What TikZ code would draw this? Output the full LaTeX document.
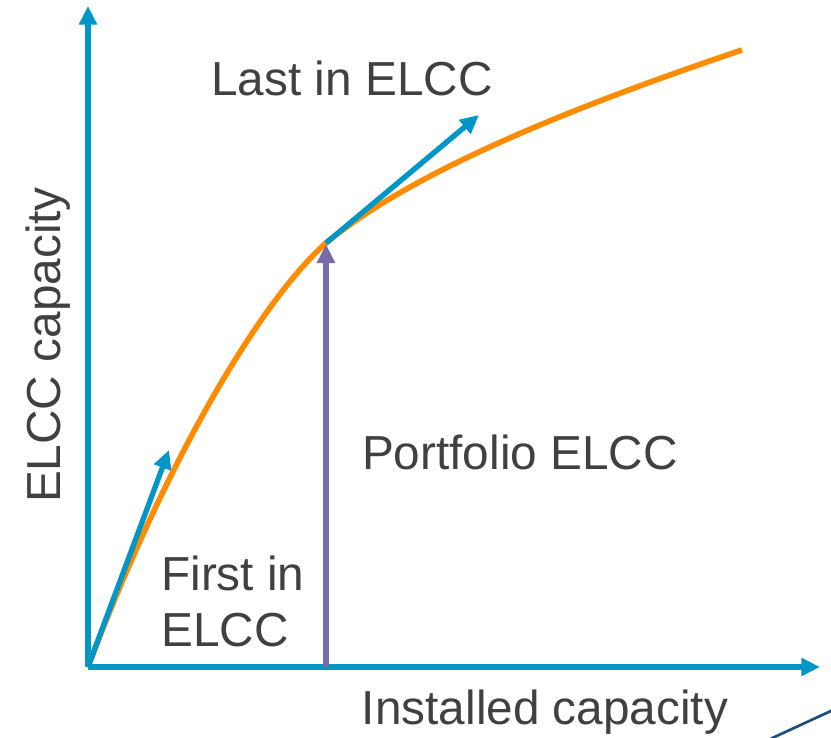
\documentclass[tikz,border=0pt]{standalone}
\usepackage{fontspec}
\setmainfont{Liberation Sans}
\usepackage{tikz}
\usetikzlibrary{positioning, calc, arrows.meta}

\definecolor{axisblue}{RGB}{0,150,200}
\definecolor{curveorange}{RGB}{255,140,0}
\definecolor{portpurple}{RGB}{118,106,168}
\definecolor{textgray}{RGB}{64,64,64}
\definecolor{darkblue}{RGB}{31,78,121}

\tikzset{
	arr/.style={line width=4pt, -{Triangle[length=14pt,width=13pt]}},
	lbl/.style={text=textgray, font=\fontsize{35.8}{40}\selectfont, inner sep=0pt}
}

\begin{document}
\begin{tikzpicture}[x=0.75pt, y=-0.75pt]
			\useasboundingbox (0,0) rectangle (831,738);
			
			\coordinate (o)   at (88, 667);
			\coordinate (ytop)   at (88, 6);
			\coordinate (xend)   at (820, 667);
			\coordinate (k)   at (326, 243);
			\coordinate (kbase)   at (326, 667);
			\coordinate (e)   at (742, 50);
			\coordinate (first)   at (169, 450);
			\coordinate (last)   at (479, 115);
			
			% axes
			\draw[arr, axisblue] (o) -- (ytop);
			\draw[arr, axisblue] (o) -- (xend);
			
			% elcc curve
			\draw[curveorange, line width=4.2pt] (o) .. controls (168, 455) and (262, 300) .. (k)
				.. controls (420, 165) and (600, 98) .. (e);
			
			% portfolio and slopes
			\draw[arr, portpurple] (kbase) -- ([yshift=-1pt]k);
			\draw[arr, axisblue] (o) -- (first);
			\draw[arr, axisblue] (k) -- (last);
			
			\draw[darkblue, line width=2pt] (768, 740) -- (833, 710);
			
			\node[lbl] (lastlbl)   at (352, 78)  {Last in ELCC};
			\node[lbl] (portlbl)   at (520, 452)  {Portfolio ELCC};
			\node[lbl, align=left, anchor=north west] (firstlbl)   at (161, 556)  {First in\\[2pt]ELCC};
			\node[lbl] (xlbl)   at (545, 712)  {Installed capacity};
			\node[lbl, rotate=90] (ylbl)   at (48, 345)  {ELCC capacity};
		\end{tikzpicture}
\end{document}
